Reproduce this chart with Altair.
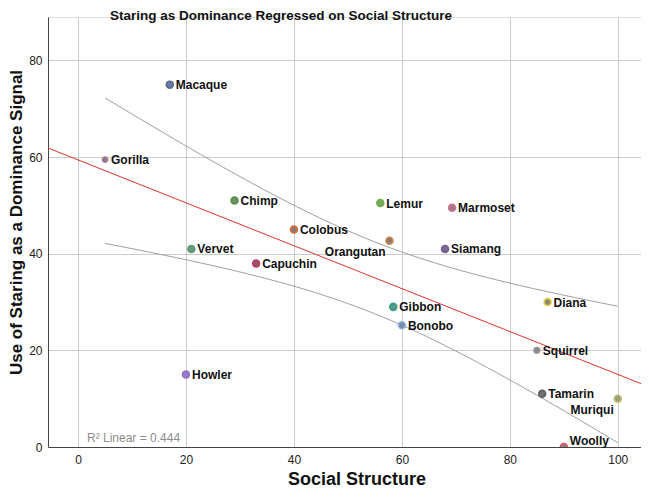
import altair as alt
import numpy as np
import pandas as pd

# ---------------- data ----------------
species = ["Macaque", "Gorilla", "Chimp", "Lemur", "Marmoset", "Colobus",
           "Orangutan", "Siamang", "Vervet", "Capuchin", "Gibbon", "Bonobo",
           "Diana", "Squirrel", "Tamarin", "Muriqui", "Howler", "Woolly"]
social = [17, 5, 29, 56, 69.3, 40, 57.7, 68, 21, 33, 58.4, 60,
          87, 85, 86, 100, 20, 90]
staring = [75, 59.5, 51, 50.5, 49.5, 45, 42.7, 41, 41, 38, 29, 25.2,
           30, 20, 11, 10, 15, 0]
x_ticks = [0, 20, 40, 60, 80, 100]
y_ticks = [0, 20, 40, 60, 80]
chart_title = ["Staring as Dominance Regressed on Social Structure"]
x_title = "Social Structure"
y_title = "Use of Staring as a Dominance Signal"
r2_label = ["R\u00b2 Linear = 0.444"]

# ---------------- styles ----------------
point_fill = {
    "Macaque": "#6a7b9b", "Gorilla": "#8c7c84", "Chimp": "#6a935e",
    "Lemur": "#7aa865", "Marmoset": "#968088", "Colobus": "#8a7a72",
    "Orangutan": "#8c7c70", "Siamang": "#7a6a8c", "Vervet": "#6a9a80",
    "Capuchin": "#8a5a6a", "Gibbon": "#5a968a", "Bonobo": "#7a8aa2",
    "Diana": "#888878", "Squirrel": "#8a8a8a", "Tamarin": "#707070",
    "Muriqui": "#9a9a7c", "Howler": "#9a7ac0", "Woolly": "#a07c80",
}
point_stroke = {
    "Macaque": "#5a6e96", "Gorilla": "#a07c94", "Chimp": "#5c8c50",
    "Lemur": "#6eb04e", "Marmoset": "#d8708c", "Colobus": "#d46a40",
    "Orangutan": "#cc864a", "Siamang": "#7a5a9c", "Vervet": "#5a9a78",
    "Capuchin": "#c43a5a", "Gibbon": "#3a9a8a", "Bonobo": "#8ab2e2",
    "Diana": "#dccc40", "Squirrel": "#909090", "Tamarin": "#606060",
    "Muriqui": "#bcbc70", "Howler": "#9070c4", "Woolly": "#d45060",
}
point_size = {"Gorilla": 26, "Squirrel": 30}
label_left_below = {"Orangutan", "Muriqui"}
label_above = {"Woolly"}

FONT = "Liberation Sans"

df = pd.DataFrame({"species": species, "social": social, "staring": staring})
df["fill"] = df["species"].map(point_fill)
df["stroke"] = df["species"].map(point_stroke)
df["size"] = df["species"].map(lambda s: point_size.get(s, 48))
df["pos"] = df["species"].map(
    lambda s: "lb" if s in label_left_below else ("ab" if s in label_above else "r"))

# 95% confidence band of the mean (derived from the data)
xa = np.array(social, dtype=float)
ya = np.array(staring, dtype=float)
n = len(xa)
mx, my = xa.mean(), ya.mean()
sxx = ((xa - mx) ** 2).sum()
b1 = ((xa - mx) * (ya - my)).sum() / sxx
b0 = my - b1 * mx
s = np.sqrt(((ya - (b0 + b1 * xa)) ** 2).sum() / (n - 2))
t_crit = 2.120  # t(0.975, df=16)
xs = np.linspace(xa.min(), xa.max(), 60)
half = t_crit * s * np.sqrt(1.0 / n + (xs - mx) ** 2 / sxx)
ci = pd.DataFrame({"social": np.concatenate([xs, xs]),
                   "staring": np.concatenate([b0 + b1 * xs + half, b0 + b1 * xs - half]),
                   "bound": ["upper"] * len(xs) + ["lower"] * len(xs)})

xscale = alt.Scale(domain=[-5.56, 104.3], nice=False, zero=False)
yscale = alt.Scale(domain=[0, 89], nice=False, zero=False)

xaxis = alt.Axis(values=x_ticks, grid=True, gridColor="#cccccc", ticks=False,
                 domainColor="#444444", labelFont=FONT, labelFontSize=12,
                 labelColor="#222222", labelPadding=7, title=x_title,
                 titleFont=FONT, titleFontSize=18, titleFontWeight="bold",
                 titleColor="#111111", titleX=308.5, titleY=37,
                 titleBaseline="alphabetic")
yaxis = alt.Axis(values=y_ticks, grid=True, gridColor="#cccccc", ticks=False,
                 domainColor="#444444", labelFont=FONT, labelFontSize=12,
                 labelColor="#222222", labelPadding=6, title=y_title,
                 titleFont=FONT, titleFontSize=17, titleFontWeight="bold",
                 titleColor="#111111", titleX=-26.5, titleY=205,
                 titleBaseline="alphabetic")

base = alt.Chart(df)

axes_layer = base.mark_point(opacity=0).encode(
    x=alt.X("social:Q", scale=xscale, axis=xaxis),
    y=alt.Y("staring:Q", scale=yscale, axis=yaxis),
)

ci_layer = alt.Chart(ci).mark_line(color="#a0a0a0", strokeWidth=1).encode(
    x=alt.X("social:Q", scale=xscale),
    y=alt.Y("staring:Q", scale=yscale),
    detail="bound:N",
)

reg_layer = base.transform_regression(
    "social", "staring", extent=[-8, 108]
).mark_line(color="#e0322c", strokeWidth=1, clip=True).encode(
    x=alt.X("social:Q", scale=xscale),
    y=alt.Y("staring:Q", scale=yscale),
)

pts_layer = base.mark_point(filled=True, opacity=1, strokeWidth=1.6, clip=True).encode(
    x=alt.X("social:Q", scale=xscale),
    y=alt.Y("staring:Q", scale=yscale),
    fill=alt.Fill("fill:N", scale=None),
    stroke=alt.Stroke("stroke:N", scale=None),
    size=alt.Size("size:Q", scale=None),
)

def labels(pos, align, dx, dy):
    return base.transform_filter(alt.datum.pos == pos).mark_text(
        align=align, baseline="middle", dx=dx, dy=dy, font=FONT,
        fontSize=12, fontWeight="bold", color="#111111"
    ).encode(
        x=alt.X("social:Q", scale=xscale),
        y=alt.Y("staring:Q", scale=yscale),
        text="species:N",
    )

lab_r = labels("r", "left", 6, 0.5)
lab_lb = labels("lb", "right", -4, 11)
lab_ab = labels("ab", "left", 6, -6)

r2_layer = alt.Chart(pd.DataFrame({"t": r2_label})).mark_text(
    align="left", baseline="alphabetic", font=FONT, fontSize=12, color="#8c8c8c"
).encode(x=alt.value(39), y=alt.value(425), text="t:N")

title_layer = alt.Chart(pd.DataFrame({"t": chart_title})).mark_text(
    align="center", baseline="alphabetic", font=FONT, fontSize=13.5,
    fontWeight="bold", color="#111111"
).encode(x=alt.value(233), y=alt.value(3), text="t:N")

chart = alt.layer(
    axes_layer, ci_layer, reg_layer, pts_layer, lab_r, lab_lb, lab_ab,
    r2_layer, title_layer
).properties(
    width=593, height=430,
    autosize=alt.AutoSizeParams(type="none"),
    padding={"left": 40, "top": 9, "right": 0, "bottom": 42},
).configure_view(strokeWidth=0).configure(background="white")

chart.save("out.html", embed_options={"renderer": "svg", "actions": False})
